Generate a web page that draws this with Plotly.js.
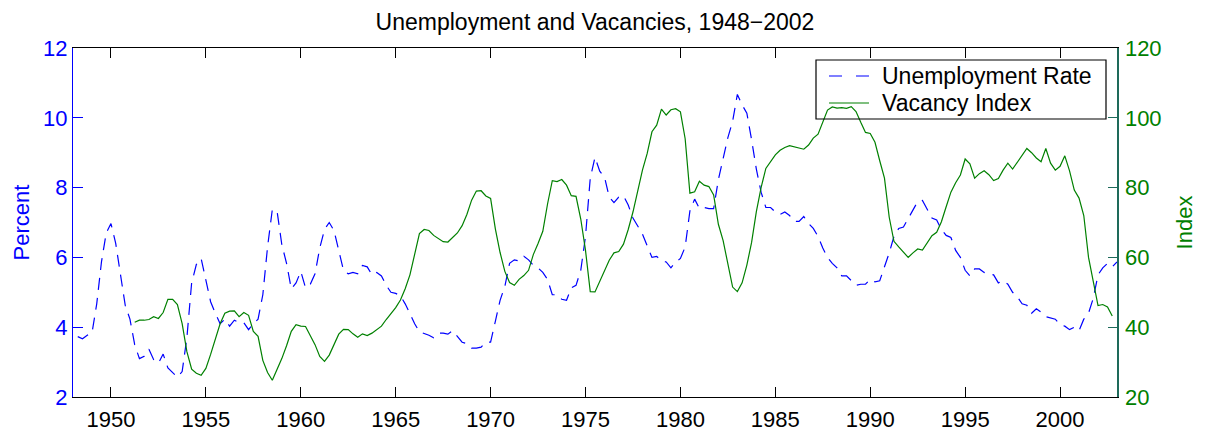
<!DOCTYPE html>
<html>
<head>
<meta charset="utf-8">
<script src="https://cdn.plot.ly/plotly-3.0.1.min.js"></script>
<style>
  html, body { margin: 0; padding: 0; background: #ffffff; }
  #chart { width: 1205px; height: 432px; }
</style>
</head>
<body>
<div id="chart"></div>
<script>
// Quarterly unemployment rate (percent), 1948Q1 - 2002Q4
const unempStart = 1948.25;
const unemp = [
  3.73, 3.67, 3.77, 3.83,
  4.67, 5.87, 6.70, 6.97,
  6.40, 5.57, 4.63, 4.23,
  3.50, 3.10, 3.17, 3.37,
  3.07, 2.97, 3.23, 2.83,
  2.70, 2.57, 2.73, 3.70,
  5.27, 5.80, 5.97, 5.33,
  4.73, 4.40, 4.10, 4.23,
  4.03, 4.20, 4.13, 4.13,
  3.93, 4.10, 4.23, 4.93,
  6.30, 7.37, 7.33, 6.37,
  5.83, 5.10, 5.27, 5.60,
  5.13, 5.23, 5.53, 6.27,
  6.80, 7.00, 6.77, 6.20,
  5.63, 5.53, 5.57, 5.53,
  5.77, 5.73, 5.50, 5.57,
  5.47, 5.20, 5.00, 4.97,
  4.90, 4.67, 4.37, 4.10,
  3.87, 3.83, 3.77, 3.70,
  3.83, 3.83, 3.80, 3.90,
  3.73, 3.57, 3.53, 3.40,
  3.40, 3.43, 3.57, 3.57,
  4.17, 4.77, 5.17, 5.83,
  5.93, 5.90, 6.03, 5.93,
  5.77, 5.70, 5.57, 5.37,
  4.93, 4.93, 4.80, 4.77,
  5.13, 5.20, 5.63, 6.60,
  8.27, 8.87, 8.47, 8.30,
  7.73, 7.57, 7.73, 7.77,
  7.50, 7.13, 6.90, 6.67,
  6.33, 6.00, 6.03, 5.90,
  5.87, 5.70, 5.87, 5.97,
  6.30, 7.33, 7.67, 7.40,
  7.43, 7.40, 7.40, 8.23,
  8.83, 9.43, 9.90, 10.67,
  10.37, 10.13, 9.37, 8.53,
  7.87, 7.43, 7.43, 7.30,
  7.23, 7.30, 7.20, 7.03,
  7.03, 7.17, 6.97, 6.83,
  6.60, 6.27, 6.00, 5.83,
  5.70, 5.47, 5.47, 5.33,
  5.20, 5.23, 5.23, 5.37,
  5.30, 5.33, 5.70, 6.13,
  6.60, 6.83, 6.87, 7.10,
  7.37, 7.60, 7.63, 7.37,
  7.13, 7.07, 6.80, 6.63,
  6.57, 6.20, 6.00, 5.63,
  5.47, 5.67, 5.67, 5.57,
  5.53, 5.50, 5.27, 5.33,
  5.23, 5.00, 4.87, 4.67,
  4.63, 4.40, 4.53, 4.43,
  4.30, 4.27, 4.23, 4.07,
  4.03, 3.93, 4.00, 3.90,
  4.23, 4.40, 4.83, 5.50,
  5.70, 5.83, 5.73, 5.87
];

// Quarterly vacancy (help-wanted) index, 1951Q1 - 2002Q3
const vacStart = 1951.25;
const vacancy = [
  41.4, 42.0, 42.0, 42.2,
  43.0, 42.5, 44.2, 48.0,
  48.0, 46.5, 41.0, 33.0,
  28.0, 26.8, 26.2, 28.2,
  32.2, 36.8, 41.0, 44.0,
  44.6, 44.7, 43.0, 44.2,
  43.4, 38.8, 37.4, 30.5,
  27.0, 24.8, 27.9, 31.0,
  34.7, 38.8, 40.7, 40.3,
  40.2, 37.7, 35.0, 31.6,
  30.2, 32.0, 34.8, 38.0,
  39.4, 39.3, 38.1, 37.1,
  38.1, 37.6, 38.3, 39.3,
  40.3, 42.2, 44.0, 45.6,
  47.8, 51.0, 55.0, 61.0,
  66.8, 68.0, 67.7, 66.3,
  65.5, 64.5, 64.4, 65.7,
  67.0, 69.1, 72.3, 76.4,
  79.0, 79.1, 77.6, 76.9,
  68.2, 61.4, 56.0, 52.8,
  52.0, 53.7, 54.8, 56.3,
  60.8, 64.0, 67.5, 75.3,
  82.0, 81.7, 82.3, 80.7,
  77.7, 77.5, 71.0, 62.0,
  50.2, 50.1, 53.0, 55.8,
  59.2, 61.3, 61.7, 63.8,
  68.0, 73.0, 79.2, 85.0,
  89.8, 96.0, 97.9, 102.5,
  100.8, 102.3, 102.6, 101.7,
  94.0, 78.4, 78.8, 81.8,
  80.7, 80.3, 77.9, 69.5,
  64.8, 58.4, 51.5, 50.2,
  52.7, 57.8, 64.3, 73.1,
  80.0, 85.5, 87.6, 89.4,
  90.7, 91.5, 92.0, 91.6,
  91.2, 91.0, 92.2, 94.2,
  95.3, 98.8, 102.2, 103.1,
  102.8, 102.9, 102.7, 103.2,
  101.8, 98.7, 95.8, 95.5,
  93.0, 87.7, 82.7, 71.5,
  64.6, 63.0, 61.4, 60.0,
  61.3, 62.4, 62.1, 64.2,
  66.2, 67.2, 70.2, 74.5,
  78.7, 81.4, 83.6, 88.2,
  86.8, 82.7, 84.0, 84.8,
  83.7, 82.0, 82.6, 85.0,
  87.0, 85.3, 87.2, 89.0,
  91.2, 90.0, 88.5, 87.4,
  91.2, 87.0, 85.0, 86.1,
  89.1, 84.8, 79.3, 77.0,
  72.0, 60.0, 53.0, 46.2,
  46.5, 45.8, 43.2
];

const seriesNames = ['Unemployment Rate', 'Vacancy Index'];
const xTicks = [1950, 1955, 1960, 1965, 1970, 1975, 1980, 1985, 1990, 1995, 2000];
const leftTicks = [2, 4, 6, 8, 10, 12];
const rightTicks = [20, 40, 60, 80, 100, 120];

const unempX = unemp.map((_, i) => unempStart + i * 0.25);
const vacX = vacancy.map((_, i) => vacStart + i * 0.25);

const FONT = '"Liberation Sans", Arial, Helvetica, sans-serif';
const BLUE = '#0000ff';
const GREEN = '#008000';
const TEAL = '#1e6a5a';
const UDASH = '12px,8px';

const traces = [
  {
    x: unempX, y: unemp, type: 'scatter', mode: 'lines',
    name: seriesNames[0], showlegend: false,
    line: { color: BLUE, width: 1.2, dash: UDASH },
    yaxis: 'y'
  },
  {
    x: vacX, y: vacancy, type: 'scatter', mode: 'lines',
    name: seriesNames[1], showlegend: false,
    line: { color: GREEN, width: 1.2 },
    yaxis: 'y2'
  }
];

// Legend box (MATLAB-style), placed in paper coordinates of the plot area
const PW = 1044, PH = 349, PL = 73, PT = 48;
const px = v => (v - PL) / PW;
const py = v => (PT + PH - v) / PH;
const legendRows = [76, 103];

const shapes = [
  { type: 'rect', xref: 'paper', yref: 'paper', layer: 'above',
    x0: px(816), x1: px(1106), y0: py(119), y1: py(60),
    line: { color: '#000000', width: 1.2 }, fillcolor: 'rgba(0,0,0,0)' },
  { type: 'line', xref: 'paper', yref: 'paper', layer: 'above',
    x0: px(829), x1: px(869), y0: py(legendRows[0]), y1: py(legendRows[0]),
    line: { color: BLUE, width: 1.2, dash: '13px,14px' } },
  { type: 'line', xref: 'paper', yref: 'paper', layer: 'above',
    x0: px(829), x1: px(869), y0: py(legendRows[1]), y1: py(legendRows[1]),
    line: { color: GREEN, width: 1.2 } }
];

const annotations = seriesNames.map((name, i) => ({
  text: name, xref: 'paper', yref: 'paper',
  x: px(880), y: py(legendRows[i]), xanchor: 'left', yanchor: 'middle',
  showarrow: false, font: { family: FONT, size: 23, color: '#000000' }
}));

const layout = {
  width: 1205, height: 432,
  margin: { l: PL, r: 1205 - PL - PW, t: PT, b: 432 - PT - PH, pad: 0 },
  paper_bgcolor: '#ffffff', plot_bgcolor: '#ffffff',
  font: { family: FONT, size: 22, color: '#000000' },
  title: {
    text: 'Unemployment and Vacancies, 1948\u22122002',
    font: { family: FONT, size: 23, color: '#000000' },
    x: 0.5, xanchor: 'center', xref: 'paper',
    y: 1 - 22 / 432, yanchor: 'middle', yref: 'container'
  },
  showlegend: false,
  shapes: shapes,
  annotations: annotations,
  xaxis: {
    range: [1948, 2003],
    tickvals: xTicks, ticktext: xTicks.map(String),
    ticks: 'inside', ticklen: 10, tickwidth: 1, tickcolor: '#000000',
    showline: true, linecolor: '#000000', linewidth: 1,
    mirror: 'ticks', showgrid: false, zeroline: false,
    ticklabelstandoff: 3,
    tickfont: { family: FONT, size: 22, color: '#000000' }
  },
  yaxis: {
    range: [2, 12],
    tickvals: leftTicks, ticktext: leftTicks.map(String),
    ticks: 'inside', ticklen: 10, tickwidth: 1, tickcolor: BLUE,
    showline: true, linecolor: BLUE, linewidth: 1,
    showgrid: false, zeroline: false,
    tickfont: { family: FONT, size: 22, color: BLUE },
    title: { text: 'Percent', font: { family: FONT, size: 22, color: BLUE }, standoff: 7 }
  },
  yaxis2: {
    range: [20, 120], overlaying: 'y', side: 'right',
    tickvals: rightTicks, ticktext: rightTicks.map(String),
    ticks: 'inside', ticklen: 9, tickwidth: 1, tickcolor: TEAL,
    showline: true, linecolor: TEAL, linewidth: 1.5,
    showgrid: false, zeroline: false,
    ticklabelstandoff: 2,
    tickfont: { family: FONT, size: 22, color: GREEN },
    title: { text: 'Index', font: { family: FONT, size: 22, color: GREEN }, standoff: 16 }
  }
};

Plotly.newPlot('chart', traces, layout, { displayModeBar: false, staticPlot: true });
</script>
</body>
</html>
